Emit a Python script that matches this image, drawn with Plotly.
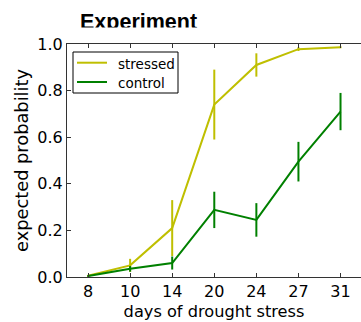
import plotly.graph_objects as go

# Days of drought stress (categorical x positions)
days = ["8", "10", "14", "20", "24", "27", "31"]

# Expected probability and error for each treatment
stressed = [0.005, 0.05, 0.21, 0.74, 0.91, 0.978, 0.986]
stressed_err = [0.004, 0.028, 0.12, 0.15, 0.05, 0.008, 0.004]
control = [0.004, 0.035, 0.06, 0.288, 0.245, 0.495, 0.71]
control_err = [0.003, 0.012, 0.028, 0.078, 0.072, 0.085, 0.08]

series_names = ["stressed", "control"]

YELLOW = "#bfbf00"
GREEN = "#008000"
FONT = "DejaVu Sans"

L, R, T, B = 67, 0, 44, 45
W, H = 361, 322
pw = W - L - R
ph = H - T - B


def px(xp):
    """Pixel column -> paper x."""
    return (xp - L) / pw


def py(yp):
    """Pixel row -> paper y."""
    return 1 - (yp - T) / ph


fig = go.Figure()
fig.add_trace(go.Scatter(
    x=days, y=stressed, name=series_names[0], mode="lines",
    line=dict(color=YELLOW, width=2),
    error_y=dict(type="data", array=stressed_err, visible=True,
                 color=YELLOW, thickness=2, width=0),
))
fig.add_trace(go.Scatter(
    x=days, y=control, name=series_names[1], mode="lines",
    line=dict(color=GREEN, width=2),
    error_y=dict(type="data", array=control_err, visible=True,
                 color=GREEN, thickness=2, width=0),
))

# Boxed legend in the upper-left corner of the axes
legend_rows = [(series_names[0], YELLOW, 62.7), (series_names[1], GREEN, 82.0)]
shapes = [dict(type="rect", xref="paper", yref="paper",
               x0=px(73), x1=px(178), y0=py(93), y1=py(52),
               line=dict(color="black", width=1), fillcolor="white",
               layer="above")]
annotations = []
for label, color, yrow in legend_rows:
    shapes.append(dict(type="line", xref="paper", yref="paper",
                       x0=px(77), x1=px(107), y0=py(yrow), y1=py(yrow),
                       line=dict(color=color, width=2), layer="above"))
    annotations.append(dict(text=label, xref="paper", yref="paper",
                            x=px(116), y=py(yrow + 1), xanchor="left",
                            yanchor="middle", showarrow=False,
                            font=dict(family=FONT, size=13.5, color="black")))

# Title, with its lower edge trimmed by a white strip
annotations.append(dict(text="<b>Experiment</b>", xref="paper", yref="paper",
                        x=px(78), y=1, xanchor="left", yanchor="bottom",
                        yshift=8, showarrow=False,
                        font=dict(family="Liberation Sans", size=21.5,
                                  color="black")))
annotations.append(dict(text=" ", xref="paper", yref="paper",
                        x=px(76), y=1, xanchor="left", yanchor="bottom",
                        yshift=2, width=130, height=13, borderpad=0,
                        bgcolor="white", showarrow=False))

fig.update_layout(
    width=W, height=H,
    margin=dict(l=L, r=R, t=T, b=B),
    paper_bgcolor="white", plot_bgcolor="white",
    font=dict(family=FONT, size=16, color="black"),
    showlegend=False,
    xaxis=dict(
        type="category", range=[-0.5, -0.5 + pw / 42.08],
        showgrid=False, zeroline=False,
        showline=True, linecolor="#333333", linewidth=1, mirror="ticks",
        ticks="inside", ticklen=4, tickcolor="#333333",
        tickfont=dict(family=FONT, size=16),
        title=dict(text="days of drought stress",
                   font=dict(family=FONT, size=16.2), standoff=5),
    ),
    yaxis=dict(
        range=[0, 1], dtick=0.2, tickformat=".1f",
        showgrid=False, zeroline=False,
        showline=True, linecolor="#333333", linewidth=1, mirror=False,
        ticks="inside", ticklen=4, tickcolor="#333333",
        tickfont=dict(family=FONT, size=16),
        title=dict(text="expected probability",
                   font=dict(family=FONT, size=17.8), standoff=4),
    ),
    shapes=shapes,
    annotations=annotations,
)

fig.write_html("out.html")
